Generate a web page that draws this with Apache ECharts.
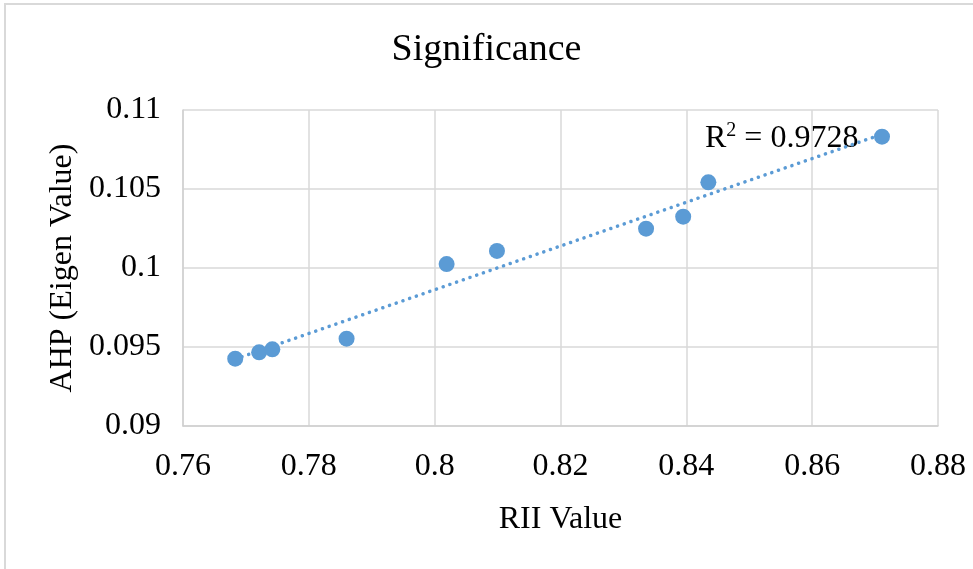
<!DOCTYPE html>
<html><head><meta charset="utf-8">
<script src="https://cdn.jsdelivr.net/npm/echarts@6/dist/echarts.min.js"></script>
<style>
html,body{margin:0;padding:0;background:#fff;}
#frame{position:absolute;left:4px;top:3px;width:980px;height:580px;border:2px solid #d9d9d9;box-sizing:border-box;}
#c{position:absolute;left:0;top:0;width:973px;height:569px;}
</style></head>
<body><div id="frame"></div><div id="c"></div>
<script>
const titleText = 'Significance';
const xName = 'RII Value';
const yName = 'AHP (Eigen Value)';
const riiValues = [0.7683, 0.7721, 0.7742, 0.7860, 0.8019, 0.8099, 0.8336, 0.8395, 0.8435, 0.8711];
const ahpValues = [0.09426, 0.09466, 0.09485, 0.09553, 0.10025, 0.10108, 0.10249, 0.10325, 0.10542, 0.10831];
const r2Label = '0.9728';
const xTicks = {min: 0.76, max: 0.88, interval: 0.02};
const yTicks = {min: 0.09, max: 0.11, interval: 0.005};

const pts = riiValues.map((x, i) => [x, ahpValues[i]]);
// least squares trendline
const n = pts.length;
let sx=0, sy=0, sxx=0, sxy=0;
pts.forEach(([x,y]) => {sx+=x; sy+=y; sxx+=x*x; sxy+=x*y;});
const slope = (n*sxy - sx*sy)/(n*sxx - sx*sx);
const icpt = (sy - slope*sx)/n;
const xmin = Math.min(...riiValues), xmax = Math.max(...riiValues);
const trend = [[xmin, icpt+slope*xmin],[xmax, icpt+slope*xmax]];

const font = 'Liberation Serif';
const fs = 32;
const chart = echarts.init(document.getElementById('c'));
chart.setOption({
  animation: false,
  title: {text: titleText, left: 'center', top: 26, textStyle: {fontFamily: font, fontSize: 38, fontWeight: 'normal', color: '#000'}},
  grid: {left: 183, top: 110, right: 35, bottom: 143},
  xAxis: {
    type: 'value', min: xTicks.min, max: xTicks.max, interval: xTicks.interval,
    name: xName, nameLocation: 'middle', nameGap: 78,
    nameTextStyle: {fontFamily: font, fontSize: fs, color: '#000'},
    axisLine: {show: true, lineStyle: {color: '#d0d0d0', width: 1.5}},
    axisTick: {show: false},
    axisLabel: {fontFamily: font, fontSize: fs, color: '#000', margin: 25, formatter: v => String(+v.toFixed(4))},
    splitLine: {show: true, lineStyle: {color: '#d9d9d9', width: 1.5}}
  },
  yAxis: {
    type: 'value', min: yTicks.min, max: yTicks.max, interval: yTicks.interval,
    name: yName, nameLocation: 'middle', nameGap: 104, nameRotate: 90,
    nameTextStyle: {fontFamily: font, fontSize: fs, color: '#000'},
    axisLine: {show: true, lineStyle: {color: '#d0d0d0', width: 1.5}},
    axisTick: {show: false},
    axisLabel: {fontFamily: font, fontSize: fs, color: '#000', margin: 22, formatter: v => String(+v.toFixed(4))},
    splitLine: {show: true, lineStyle: {color: '#d9d9d9', width: 1.5}}
  },
  series: [
    {type: 'line', data: trend, symbol: 'none', silent: true,
     lineStyle: {color: '#5B9BD5', width: 3.5, type: [0.1, 7], cap: 'round'}, z: 2},
    {type: 'scatter', data: pts, symbol: 'circle', symbolSize: 16,
     itemStyle: {color: '#5B9BD5', opacity: 1}, z: 3}
  ],
  graphic: [{
    type: 'text', left: 705, top: 121,
    style: {
      text: '{b|R}{s|2}{b| = ' + r2Label + '}',
      rich: {
        b: {fontFamily: font, fontSize: fs, fill: '#000', verticalAlign: 'bottom'},
        s: {fontFamily: font, fontSize: 20, fill: '#000', verticalAlign: 'top', padding: [0,0,14,0]}
      }
    }
  }]
});
</script></body></html>
